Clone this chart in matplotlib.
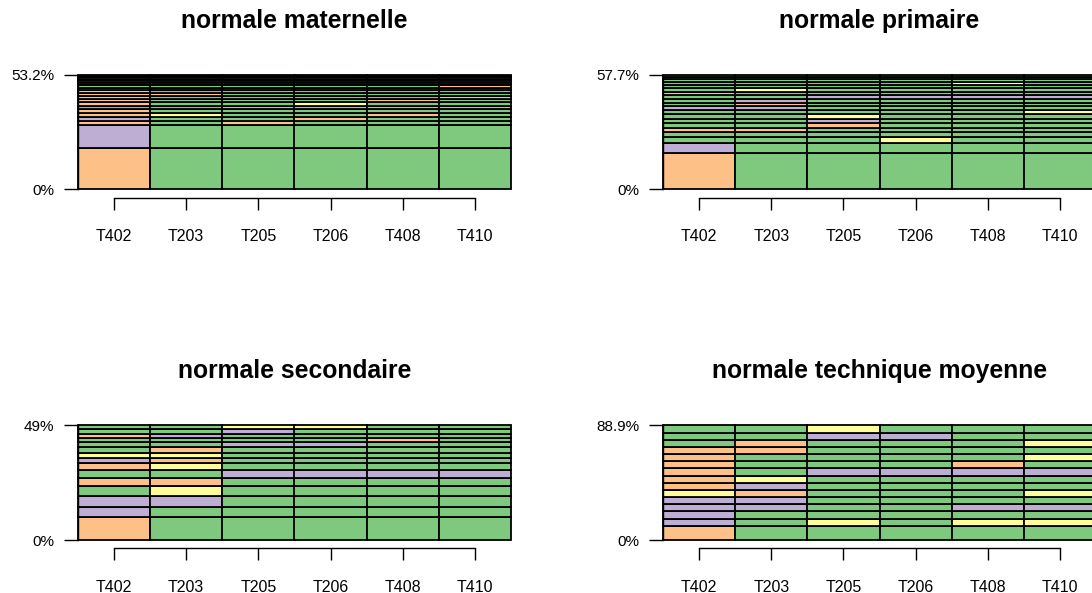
import matplotlib
matplotlib.use("Agg")
import matplotlib.pyplot as plt
import numpy as np

plt.rcParams["font.family"] = ["Liberation Sans", "DejaVu Sans"]

# Accent-like palette used for the four categories
PALETTE = {"G": "#7FC97F", "P": "#BEAED4", "O": "#FDC086", "Y": "#FFFF99"}

columns = ["T402", "T203", "T205", "T206", "T408", "T410"]

# each row: segment height (%) and its colour code per column (bottom -> top)
mat_title = "normale maternelle"
mat_top = "53.2%"
mat_heights = [19.5, 10.8, 1.9, 1.9, 1.9, 1.9, 1.8, 1.7, 1.6, 1.5, 1.4,
               1.3, 1.1, 1.0, 0.9, 0.8, 0.7, 0.6, 0.8, 0.7, 0.6]
mat_rows = ["OGGGGG", "PGGGGG", "OGOGGG", "PGGOGG", "OYGGOG", "OGGGGG",
            "GGPPPP", "OGGYGG", "OGGGOG", "OGGGGO", "OOGGGG", "OGGGGG",
            "OGGGOG", "GGGGGO", "OGGGGG", "GGGGGG", "OGGGGG", "GGGGGG",
            "GGGGGG", "GGGGGG", "GGGGGG"]

pri_title = "normale primaire"
pri_top = "57.7%"
pri_heights = [18.1, 5.4, 2.6, 2.5, 2.4, 2.3, 2.2, 2.2, 2.1, 2.0,
               1.9, 1.9, 1.8, 1.8, 1.7, 1.6, 1.5, 1.4, 1.3, 1.0]
pri_rows = ["OGGGGG", "PGGGGG", "GGGYGG", "GGGGGG", "OOGGGG", "GGOGGG",
            "GGPGGG", "GGYGGG", "GGGGGY", "PPGGGG", "GOGGGG", "GPGGGG",
            "GGPPPP", "OGGGGG", "GYGGGG", "GGGGGG", "GGGGYG", "GGGGGG",
            "GGGGGG", "GGGGGG"]

sec_title = "normale secondaire"
sec_top = "49%"
sec_heights = [9.7, 4.4, 4.7, 4.3, 3.6, 3.3, 2.9, 2.3, 2.1, 2.3,
               2.3, 1.9, 1.7, 1.8, 1.7]
sec_rows = ["OGGGGG", "PGGGGG", "PPGGGG", "GYGGGG", "OOGGGG", "GGPPPP",
            "OYGGGG", "POGGGG", "YYGGGG", "GOGGGG", "GGPPGG", "GGGGOG",
            "OPGGGG", "GGPGGG", "GGYYGG"]

tec_title = "normale technique moyenne"
tec_top = "88.9%"
tec_heights = [11.1, 5.56, 5.56, 5.56, 5.56, 5.56, 5.56, 5.56,
               5.56, 5.56, 5.56, 5.56, 5.56, 5.56, 5.56]
tec_rows = ["OGGGGG", "PGYGYY", "PGGGGG", "PPGGPP", "PPGGGG", "YOGGGY",
            "OPGGGG", "OYGGGG", "OGPPPP", "OGGGOG", "OGGGGY", "OOGGGG",
            "GOGGGY", "GGPPGG", "GGYGGG"]


def draw_panel(fig, rect, title, heights, rows, top_label):
    ax = fig.add_axes(rect)
    x = np.arange(len(columns))
    bottom = np.zeros(len(columns))
    for h, row in zip(heights, rows):
        ax.bar(x, h, width=1.0, bottom=bottom, color=[PALETTE[c] for c in row],
               edgecolor="black", linewidth=1.3, clip_on=False)
        bottom += h
    top = float(sum(heights))
    ax.set_xlim(-0.5, len(columns) - 0.5)
    ax.set_ylim(0, top)

    for s in ("top", "right"):
        ax.spines[s].set_visible(False)
    ax.spines["left"].set_bounds(0, top)
    ax.spines["bottom"].set_position(("outward", 6))
    ax.spines["bottom"].set_bounds(0, len(columns) - 1)
    for s in ("left", "bottom"):
        ax.spines[s].set_linewidth(1.0)

    ax.set_yticks([0, top])
    ax.set_yticklabels(["0%", top_label])
    ax.set_xticks(x)
    ax.set_xticklabels(columns)
    ax.tick_params(axis="y", length=10, width=1.0, pad=7, labelsize=11)
    ax.tick_params(axis="x", length=8.5, width=1.0, pad=14, labelsize=11.5)

    ax.text(0.5, 1 + 54 / 114.6, title, transform=ax.transAxes, ha="center",
            va="center", fontsize=17.8, fontweight="bold")
    return ax


fig = plt.figure(figsize=(10.92, 5.93), dpi=100)
w, h = 433 / 1092, 114.6 / 593
draw_panel(fig, [78 / 1092, 1 - 189.3 / 593, w, h], mat_title, mat_heights, mat_rows, mat_top)
draw_panel(fig, [663 / 1092, 1 - 189.3 / 593, w, h], pri_title, pri_heights, pri_rows, pri_top)
draw_panel(fig, [78 / 1092, 1 - 540 / 593, w, h], sec_title, sec_heights, sec_rows, sec_top)
draw_panel(fig, [663 / 1092, 1 - 540 / 593, w, h], tec_title, tec_heights, tec_rows, tec_top)

fig.savefig("out.png", dpi=100)
plt.close(fig)
